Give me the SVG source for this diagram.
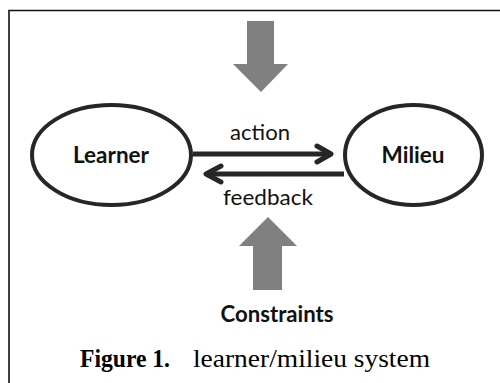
<svg xmlns="http://www.w3.org/2000/svg" width="500" height="383" viewBox="0 0 500 383">
<style>
.node{fill:#fff;stroke:#262626;stroke-width:4}
.lbl{font-family:Lato,"Open Sans","Liberation Sans",sans-serif;fill:#111;text-anchor:middle}
.b{font-weight:bold;font-size:22px}
.r{font-size:22px}
.conn{stroke:#262626;stroke-width:5;fill:none}
.head{stroke:#262626;stroke-width:5;fill:none;stroke-linecap:round;stroke-linejoin:round}
.big{fill:#808080}
.cap{font-family:"Liberation Serif","Times New Roman",serif;font-size:26px;fill:#000}
</style>
<rect width="500" height="383" fill="#fff"/>
<path d="M9,383 V10.5 H500" fill="none" stroke="#111" stroke-width="1.6"/>
<g id="force-top">
<polygon class="big" points="247,21 274,21 274,64 288,64 261,92 233,64 247,64"/>
</g>
<g id="learner">
<ellipse class="node" cx="111.5" cy="155" rx="79.5" ry="50"/>
<text class="lbl b" x="111" y="163" textLength="76" lengthAdjust="spacingAndGlyphs">Learner</text>
</g>
<g id="milieu">
<ellipse class="node" cx="413.5" cy="155" rx="68.5" ry="50"/>
<text class="lbl b" x="413" y="163" textLength="63" lengthAdjust="spacingAndGlyphs">Milieu</text>
</g>
<g id="connectors">
<line class="conn" x1="193" y1="154" x2="330" y2="154"/>
<polyline class="head" points="317,146 331,154 317,162"/>
<text class="lbl r" x="260" y="140" textLength="60" lengthAdjust="spacingAndGlyphs">action</text>
<line class="conn" x1="344" y1="174" x2="206" y2="174"/>
<polyline class="head" points="221,166 206,174 221,182"/>
<text class="lbl r" x="268" y="205" textLength="90" lengthAdjust="spacingAndGlyphs">feedback</text>
</g>
<g id="constraints">
<polygon class="big" points="268,217 297,246 282,246 282,290 253,290 253,246 239,246"/>
<text class="lbl b" x="277" y="322" textLength="113" lengthAdjust="spacingAndGlyphs">Constraints</text>
</g>
<text class="cap" y="367"><tspan x="80" font-weight="bold" textLength="90" lengthAdjust="spacingAndGlyphs">Figure 1.</tspan><tspan x="193" textLength="237" lengthAdjust="spacingAndGlyphs">learner/milieu system</tspan></text>
</svg>
